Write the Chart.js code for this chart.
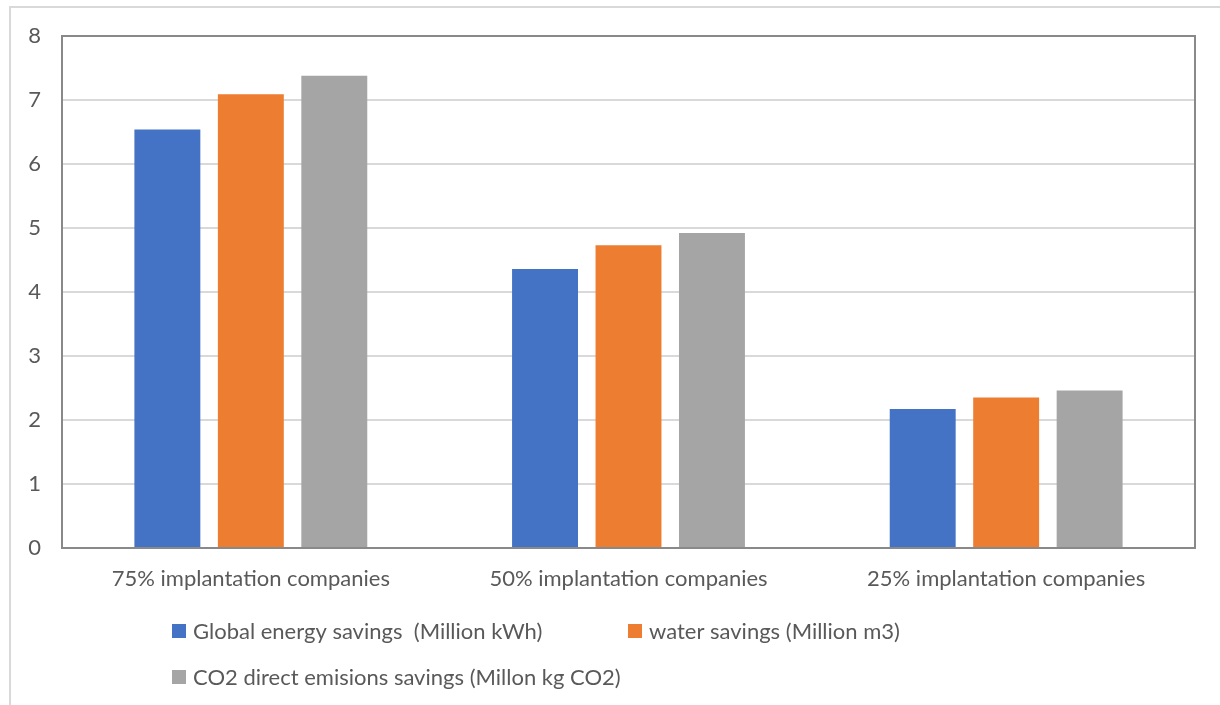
<!DOCTYPE html>
<html>
<head>
<meta charset="utf-8">
<script src="https://cdn.jsdelivr.net/npm/chart.js@4"></script>
<style>
  html, body { margin: 0; padding: 0; background: #fff; }
  #wrap { width: 1220px; height: 705px; position: relative; }
</style>
</head>
<body>
<div id="wrap"><canvas id="savings"></canvas></div>
<script>
const categories = ['75% implantation companies', '50% implantation companies', '25% implantation companies'];
const energySavings = [6.54, 4.36, 2.17];
const waterSavings = [7.09, 4.73, 2.35];
const co2Savings = [7.38, 4.92, 2.46];
const yTicks = [0, 1, 2, 3, 4, 5, 6, 7, 8];

const FONT = 'Lato, "Open Sans", sans-serif';
const TEXT = '#595959';

// outer frame lines, plot box and the two-column legend
const frame = {
    id: 'frame',
    beforeDraw(chart) {
        const ctx = chart.ctx;
        ctx.save();
        ctx.strokeStyle = '#d9d9d9';
        ctx.lineWidth = 2;
        ctx.beginPath();
        ctx.moveTo(10, chart.height);
        ctx.lineTo(10, 7);
        ctx.lineTo(chart.width, 7);
        ctx.stroke();
        ctx.restore();
    },
    afterDatasetsDraw(chart) {
        const { ctx, chartArea: a } = chart;
        ctx.save();
        ctx.strokeStyle = '#898989';
        ctx.lineWidth = 2;
        ctx.strokeRect(a.left, a.top, a.right - a.left, a.bottom - a.top);
        ctx.restore();
    },
    afterDraw(chart) {
        const ctx = chart.ctx;
        const spots = [[172, 631], [628, 631], [172, 677]];
        ctx.save();
        ctx.font = '22px ' + FONT;
        ctx.textBaseline = 'middle';
        chart.data.datasets.forEach((ds, i) => {
            const [x, y] = spots[i];
            ctx.fillStyle = ds.backgroundColor;
            ctx.fillRect(x, y - 7, 14, 14);
            ctx.fillStyle = TEXT;
            ctx.fillText(ds.label, x + 21, y + 1);
        });
        ctx.restore();
    }
};

new Chart(document.getElementById('savings'), {
    type: 'bar',
    data: {
        labels: categories,
        datasets: [
            { label: 'Global energy savings  (Million kWh)', data: energySavings, backgroundColor: '#4472C4' },
            { label: 'water savings (Million m3)', data: waterSavings, backgroundColor: '#ED7D31' },
            { label: 'CO2 direct emisions savings (Millon kg CO2)', data: co2Savings, backgroundColor: '#A5A5A5' }
        ]
    },
    options: {
        responsive: true,
        maintainAspectRatio: false,
        animation: false,
        categoryPercentage: 0.663,
        barPercentage: 0.79,
        layout: { padding: { left: 0, top: 36, right: 25, bottom: 97 } },
        plugins: {
            legend: { display: false },
            tooltip: { enabled: false }
        },
        scales: {
            x: {
                grid: { display: false },
                border: { display: false },
                ticks: { color: TEXT, font: { family: FONT, size: 22 }, padding: 10 },
                afterFit(scale) { scale.height = 60; }
            },
            y: {
                min: 0,
                max: 8,
                afterBuildTicks(scale) { scale.ticks = yTicks.map(v => ({ value: v })); },
                grid: { color: '#d9d9d9', lineWidth: 2, drawTicks: false },
                border: { display: false },
                ticks: { color: TEXT, font: { family: FONT, size: 22 }, padding: 21 },
                afterFit(scale) { scale.width = 62; }
            }
        }
    },
    plugins: [frame]
});
</script>
</body>
</html>
